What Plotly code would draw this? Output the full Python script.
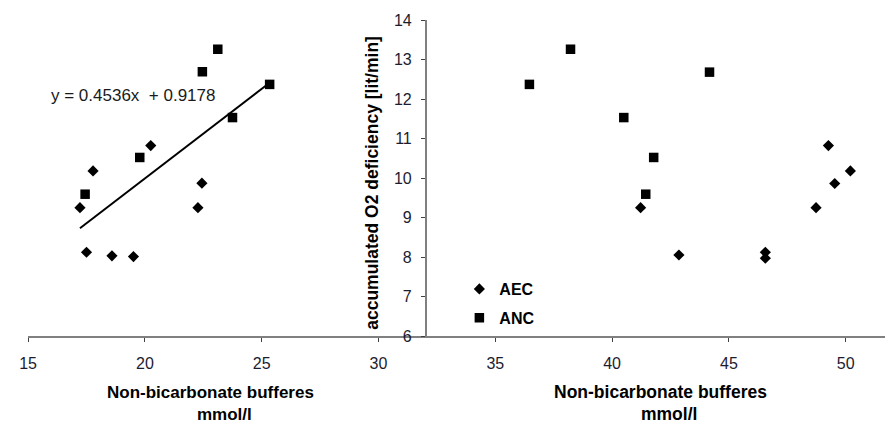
import plotly.graph_objects as go

# ---- data ----
left_aec_x = [17.22, 17.78, 17.50, 18.59, 19.51, 20.25, 22.27, 22.44]
left_aec_y = [9.25, 10.18, 8.12, 8.03, 8.01, 10.82, 9.25, 9.87]
left_anc_x = [17.44, 19.78, 22.46, 23.12, 23.75, 25.34]
left_anc_y = [9.59, 10.52, 12.69, 13.26, 11.53, 12.37]
right_aec_x = [41.22, 42.86, 46.56, 46.56, 48.73, 49.26, 49.53, 50.20]
right_aec_y = [9.25, 8.05, 8.12, 7.97, 9.25, 10.82, 9.86, 10.18]
right_anc_x = [36.46, 38.22, 40.50, 41.44, 41.78, 44.17]
right_anc_y = [12.37, 13.26, 11.53, 9.59, 10.52, 12.68]
trend_slope = 0.4536
trend_intercept = 0.9178
x_ticks = [15, 20, 25, 30, 35, 40, 45, 50]
y_ticks = [6, 7, 8, 9, 10, 11, 12, 13, 14]
series_names = ["AEC", "ANC"]
x_title_main = "Non-bicarbonate bufferes"
x_title_unit = "mmol/l"
y_title = "accumulated O2 deficiency [lit/min]"
equation_text = "y = 0.4536x  + 0.9178"

# ---- geometry ----
W, H = 885, 423
T, B = 20, 87
PH = H - T - B
FONT = "Liberation Sans, Arial, sans-serif"


def px_x(px):
    return px / W


def px_y(py):
    return (H - B - py) / PH


all_left_x = left_aec_x + left_anc_x
tx = [min(all_left_x), max(all_left_x)]
ty = [trend_slope * v + trend_intercept for v in tx]

fig = go.Figure()
diamond = dict(symbol="diamond", size=8.6, color="black", line=dict(width=0))
square = dict(symbol="square", size=9.5, color="black", line=dict(width=0))

fig.add_trace(go.Scatter(x=left_aec_x, y=left_aec_y, mode="markers", marker=diamond,
                         name=series_names[0], legendgroup="a", showlegend=False))
fig.add_trace(go.Scatter(x=left_anc_x, y=left_anc_y, mode="markers", marker=square,
                         name=series_names[1], legendgroup="b", showlegend=False))
fig.add_trace(go.Scatter(x=tx, y=ty, mode="lines", line=dict(color="black", width=2),
                         showlegend=False, hoverinfo="skip"))
fig.add_trace(go.Scatter(x=right_aec_x, y=right_aec_y, mode="markers", marker=diamond,
                         name=series_names[0], legendgroup="a"))
fig.add_trace(go.Scatter(x=right_anc_x, y=right_anc_y, mode="markers", marker=square,
                         name=series_names[1], legendgroup="b"))

x0_px, px_per_unit = 19.3, 23.6
x_end = x_ticks[0] + (W - x0_px) / px_per_unit
y_axis_px = 421.0

fig.update_layout(
    width=W, height=H,
    margin=dict(l=0, r=0, t=T, b=B, pad=0),
    paper_bgcolor="white", plot_bgcolor="white",
    font=dict(family=FONT, color="#1a1a1a"),
    xaxis=dict(domain=[px_x(x0_px), 1], range=[x_ticks[0], x_end],
               tickvals=x_ticks, showgrid=False, zeroline=False,
               showline=True, linecolor="#808080", linewidth=1.5,
               ticks="outside", ticklen=4, tickcolor="#404040", tickwidth=1,
               tickfont=dict(size=16, color="#1c1c30"), ticklabelstandoff=8,
               anchor="y"),
    yaxis=dict(range=[6, 14], tickvals=y_ticks, showgrid=False, zeroline=False,
               showline=True, linecolor="#808080", linewidth=1.5,
               ticks="outside", ticklen=4, tickcolor="#404040", tickwidth=1,
               tickfont=dict(size=16, color="#1c1c30"), ticklabelstandoff=6,
               anchor="free", position=px_x(y_axis_px)),
    showlegend=True,
    legend=dict(x=px_x(455), y=px_y(272), xanchor="left", yanchor="top",
                bgcolor="rgba(0,0,0,0)", borderwidth=0, tracegroupgap=5,
                font=dict(size=16, family=FONT, color="black", weight="bold"),
                traceorder="grouped"),
)

ann = [
    dict(text=equation_text, x=px_x(125), y=px_y(96), font=dict(size=17, color="#1a1a1a")),
    dict(text=x_title_main, x=px_x(203.3), y=px_y(392), font=dict(size=17, weight="bold", color="black")),
    dict(text=x_title_unit, x=px_x(218), y=px_y(414), font=dict(size=17, weight="bold", color="black")),
    dict(text=x_title_main, x=px_x(657.8), y=px_y(392), font=dict(size=17.5, weight="bold", color="black")),
    dict(text=x_title_unit, x=px_x(666.7), y=px_y(414), font=dict(size=17.5, weight="bold", color="black")),
    dict(text=y_title, x=px_x(366), y=px_y(182.5), textangle=-90,
         font=dict(size=17.5, weight="bold", color="black")),
]
for a in ann:
    fig.add_annotation(xref="paper", yref="paper", showarrow=False,
                       xanchor="center", yanchor="middle", font_family=FONT, **a)

fig.write_html("out.html",
               config={"displayModeBar": False},
               post_script="document.body.style.margin='0';document.body.style.overflow='hidden';")
